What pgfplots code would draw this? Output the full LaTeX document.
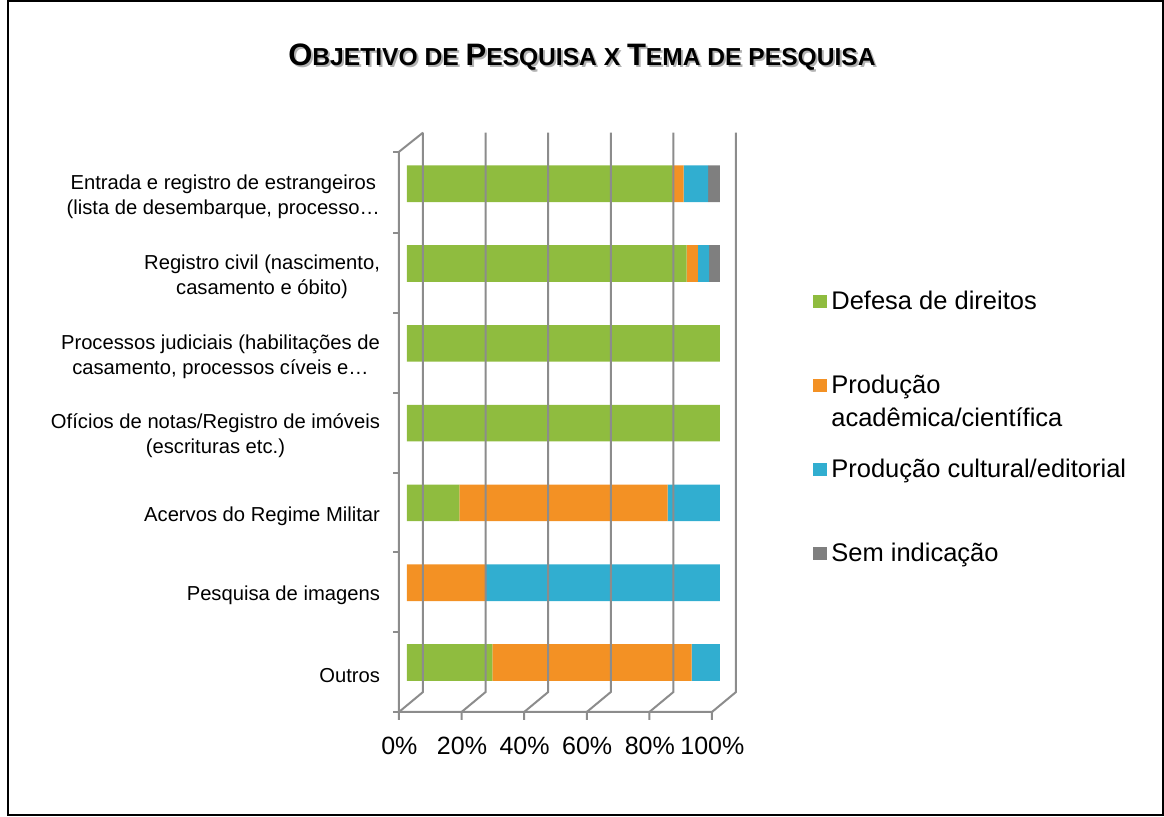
\documentclass[border=0pt]{standalone}
\usepackage{fontspec}
\setmainfont{Liberation Sans}
\usepackage{pgfplots}
\pgfplotsset{compat=1.18}
\definecolor{cgreen}{HTML}{8FBC3F}
\definecolor{corange}{HTML}{F39124}
\definecolor{cblue}{HTML}{31AED0}
\definecolor{cgray}{HTML}{7F7F7F}
\definecolor{cgrid}{HTML}{8C8C8C}
\newcommand{\lent}[1]{\raisebox{0pt}[9pt][3pt]{#1}}
\begin{document}
\begin{tikzpicture}
\useasboundingbox (0,0) rectangle (582pt,408pt);
\draw[line width=1pt] (4pt,0.5pt) rectangle (581.5pt,407.5pt);
\newcommand{\ttl}{{\fontsize{15.5}{17}\selectfont O}BJETIVO DE {\fontsize{15.5}{17}\selectfont P}ESQUISA X {\fontsize{15.5}{17}\selectfont T}EMA DE PESQUISA}
\node[font=\bfseries\fontsize{12.3}{14}\selectfont, text=gray!60] at (292pt,378.5pt) {\ttl};
\node[font=\bfseries\fontsize{12.3}{14}\selectfont] at (291pt,379.5pt) {\ttl};
\begin{axis}[
  at={(203.5pt,56.8pt)}, anchor=south west,
  scale only axis, width=156.5pt, height=279.3pt,
  clip=false,
  xbar stacked, bar width=18.3pt,
  xmin=0, xmax=100, ymin=-0.5, ymax=6.5,
  xtick={0,20,...,100},
  xticklabel={\pgfmathprintnumber{\tick}\%},
  /pgf/number format/assume math mode=true,
  xticklabel style={font=\fontsize{12.5}{14}\selectfont, anchor=north, yshift=-14pt, xshift=-3.8pt},
  ytick={0,1,2,3,4,5,6},
  yticklabels={
    {Outros},
    {Pesquisa de imagens},
    {Acervos do Regime Militar},
    {Ofícios de notas/Registro de imóveis\\(escrituras etc.)},
    {Processos judiciais (habilitações de\\casamento, processos cíveis e\ldots},
    {Registro civil (nascimento,\\casamento e óbito)},
    {Entrada e registro de estrangeiros\\(lista de desembarque, processo\ldots}
  },
  yticklabel style={font=\fontsize{10.1}{12.5}\selectfont, align=center, xshift=-10pt, yshift=-6.5pt},
  major tick length=0pt,
  axis line style={draw=none},
  legend style={at={(1.297,0.744)}, anchor=north west, draw=none, fill=none,
    font=\fontsize{12.75}{16.5}\selectfont, row sep=27.5pt, inner sep=0pt,
    nodes={inner sep=2pt}},
  legend cell align=left,
  legend image code/.code={\fill[#1] (0pt,-3.25pt) rectangle (7pt,3.25pt);},
]
% 3D-like frame (decoration)
\foreach \k in {0,20,40,60,80,100} {
  \edef\tmp{\noexpand\draw[cgrid, line width=1pt] (axis cs:{5.11+\k},6.64) -- (axis cs:{5.11+\k},-0.37) -- (axis cs:{-2.56+\k},-0.62) -- (axis cs:{-2.56+\k},-0.72);}
  \tmp
}
\draw[cgrid, line width=1pt] (axis cs:5.11,6.64) -- (axis cs:-2.56,6.40) -- (axis cs:-2.56,-0.62) -- (axis cs:97.8,-0.62);
\foreach \j in {-0.62,0.38,1.38,2.38,3.38,4.38,5.38,6.40} {
  \edef\tmp{\noexpand\draw[cgrid, line width=1pt] (axis cs:-2.56,\j) -- (axis cs:-4.6,\j);}
  \tmp
}
\addplot[fill=cgreen, draw=none] coordinates {(27.3,0) (0,1) (16.7,2) (100,3) (100,4) (89.3,5) (84.6,6)};
\addplot[fill=corange, draw=none] coordinates {(63.6,0) (25,1) (66.6,2) (0,3) (0,4) (3.6,5) (3.8,6)};
\addplot[fill=cblue, draw=none] coordinates {(9.1,0) (75,1) (16.7,2) (0,3) (0,4) (3.6,5) (7.8,6)};
\addplot[fill=cgray, draw=none] coordinates {(0,0) (0,1) (0,2) (0,3) (0,4) (3.5,5) (3.8,6)};
\addlegendentry{\lent{Defesa de direitos}}
\addlegendentry{\lent{\begin{tabular}[t]{@{}l@{}}Produção\\acadêmica/científica\end{tabular}}}
\addlegendentry{\lent{Produção cultural/editorial}}
\addlegendentry{\lent{Sem indicação}}
\end{axis}
\end{tikzpicture}
\end{document}
